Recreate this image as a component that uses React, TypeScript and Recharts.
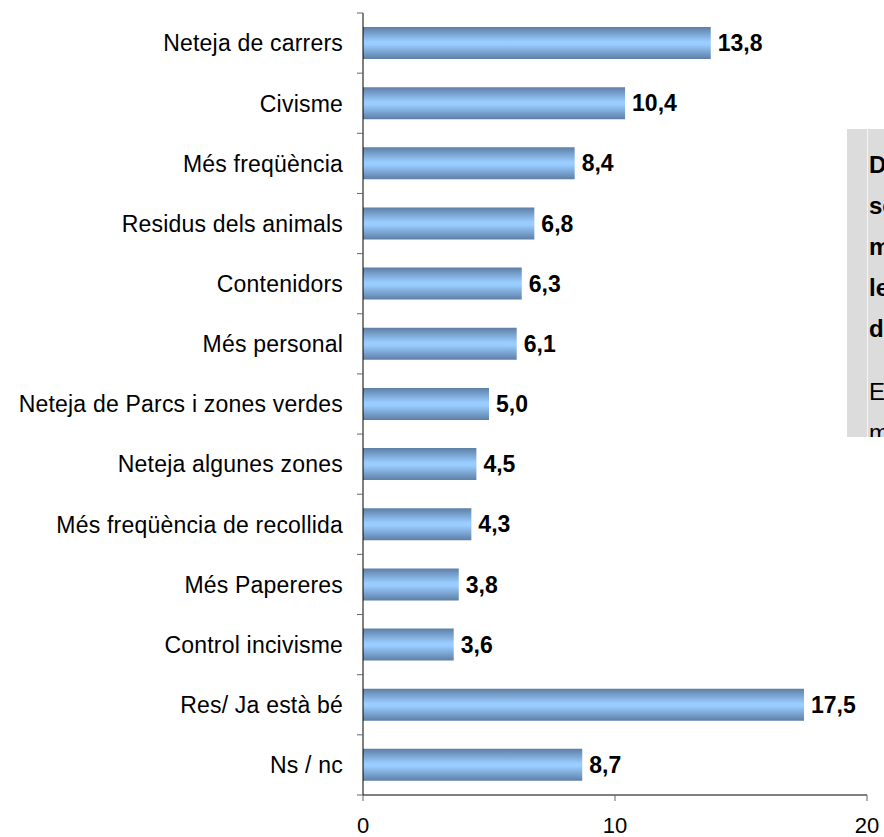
import { BarChart, Bar, XAxis, YAxis, LabelList } from 'recharts';

const categories = [
  'Neteja de carrers',
  'Civisme',
  'Més freqüència',
  'Residus dels animals',
  'Contenidors',
  'Més personal',
  'Neteja de Parcs i zones verdes',
  'Neteja algunes zones',
  'Més freqüència de recollida',
  'Més Papereres',
  'Control incivisme',
  'Res/ Ja està bé',
  'Ns / nc',
];
const values = [13.8, 10.4, 8.4, 6.8, 6.3, 6.1, 5.0, 4.5, 4.3, 3.8, 3.6, 17.5, 8.7];
const xTicks = [0, 10, 20];

const boxBold = ['Destaca', 'sobretot', 'millorar', 'les', 'de'];
const boxNormal = ['En', 'menor'];

const data = categories.map((name, i) => ({ name, value: values[i] }));

const W = 884;
const H = 837;
const PLOT_LEFT = 363;
const PLOT_TOP = 13;
const PLOT_BOTTOM = 795;
const BAND = (PLOT_BOTTOM - PLOT_TOP) / categories.length;
const FONT = '"Liberation Sans", Arial, sans-serif';

function CatTick(props: any) {
  const { x, y, payload, index } = props;
  const top = y - BAND / 2;
  return (
    <g>
      <line x1={PLOT_LEFT - 6} x2={PLOT_LEFT} y1={top} y2={top} stroke="#666" />
      {index === categories.length - 1 && (
        <line x1={PLOT_LEFT - 6} x2={PLOT_LEFT} y1={top + BAND} y2={top + BAND} stroke="#666" />
      )}
      <text x={x} y={y} dy="0.36em" textAnchor="end" fontSize={23} letterSpacing={0.2} fill="#000" fontFamily={FONT}>
        {payload.value}
      </text>
    </g>
  );
}

export default function App() {
  return (
    <div style={{ position: 'absolute', left: 0, top: 0, width: W, height: H, background: '#fff', fontFamily: FONT }}>
      <BarChart
        width={W}
        height={H}
        data={data}
        layout="vertical"
        margin={{ top: PLOT_TOP, right: W - 867, bottom: 0, left: 0 }}
      >
        <defs>
          <linearGradient id="barGrad" x1="0" y1="0" x2="0" y2="1">
            <stop offset="0%" stopColor="#5d7fa6" />
            <stop offset="45%" stopColor="#99ccff" />
            <stop offset="55%" stopColor="#99ccff" />
            <stop offset="100%" stopColor="#5d7fa6" />
          </linearGradient>
        </defs>
        <XAxis
          type="number"
          domain={[0, 20]}
          ticks={xTicks}
          height={H - PLOT_BOTTOM}
          axisLine={{ stroke: '#000' }}
          tickLine={{ stroke: '#666' }}
          tickSize={6}
          tickMargin={16}
          tick={{ fontSize: 22, fill: '#000', fontFamily: FONT }}
          interval={0}
        />
        <YAxis
          type="category"
          dataKey="name"
          width={PLOT_LEFT}
          axisLine={{ stroke: '#000' }}
          tickLine={false}
          tickSize={6}
          tickMargin={14}
          interval={0}
          tick={<CatTick />}
        />
        <Bar dataKey="value" fill="url(#barGrad)" barSize={32} isAnimationActive={false}>
          <LabelList
            dataKey="value"
            position="right"
            offset={7}
            formatter={(v: any) => Number(v).toFixed(1).replace('.', ',')}
            style={{ fontSize: 23, fontWeight: 'bold', fill: '#000', fontFamily: FONT }}
          />
        </Bar>
      </BarChart>
      <div
        style={{
          position: 'absolute',
          left: 847,
          top: 129,
          width: W - 847,
          height: 308,
          background: '#dcdcdc',
          overflow: 'hidden',
        }}
      >
        <div style={{ position: 'absolute', left: 20, top: 0, width: 1, height: '100%', background: '#f4f4f4' }} />
        {boxBold.map((t, i) => (
          <div
            key={'b' + i}
            style={{ position: 'absolute', left: 22, top: 15 + i * 41, fontSize: 24, lineHeight: '41px', fontWeight: 'bold', whiteSpace: 'nowrap', color: '#000' }}
          >
            {t}
          </div>
        ))}
        {boxNormal.map((t, i) => (
          <div
            key={'n' + i}
            style={{ position: 'absolute', left: 22, top: 242 + i * 41, fontSize: 24, lineHeight: '41px', whiteSpace: 'nowrap', color: '#000' }}
          >
            {t}
          </div>
        ))}
      </div>
    </div>
  );
}
